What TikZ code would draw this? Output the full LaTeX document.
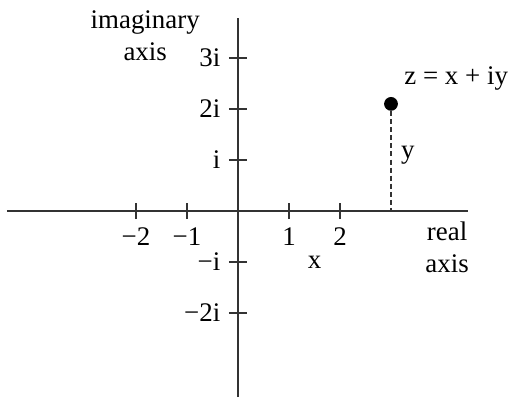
\documentclass[tikz,border=0pt]{standalone}
\usepackage{fontspec}
\setmainfont{Liberation Serif}
\usetikzlibrary{positioning}
\tikzset{
  axisline/.style={line width=1pt, black!80},
  tickmark/.style={line width=0.7pt, black!80},
  ticklbl/.style={inner sep=0pt},
  zdot/.style={circle, fill=black, inner sep=0pt, minimum size=0.27cm}
}

\begin{document}
\begin{tikzpicture}[font=\fontsize{15}{18}\selectfont]
    \useasboundingbox (-4.667,-3.706) rectangle (5.353,4.137);

    % Axes
    \coordinate (W) at (-4.53,0);
    \coordinate (E) at (4.51,0);
    \coordinate (S) at (0,-3.65);
    \coordinate (N) at (0,3.78);
    \draw[axisline] (W) -- (E);
    \draw[axisline] (S) -- (N);

    % Ticks on the real axis
    \foreach \x/\lbl [count=\i] in {-2/{−2},-1/{−1},1/1,2/2} {
        \draw[tickmark] (\x,-0.16) -- (\x,0.16);
        \node[ticklbl] (re\i) at (\x,-0.5) {\lbl};
    }

    % Ticks on the imaginary axis
    \foreach \y/\lbl [count=\i] in {3/3i,2/2i,1/i,-1/{−i},-2/{−2i}} {
        \draw[tickmark] (-0.18,\y) -- (0.18,\y);
        \node[ticklbl, anchor=east] (im\i) at (-0.34,\y) {\lbl};
    }

    % Axis names
    \node[align=center, inner sep=0pt] (imname) at (-1.82,3.44) {imaginary\\axis};
    \node[align=center, inner sep=0pt] (rename) at (4.1,-0.71) {real\\axis};

    % The point z and its parts
    \node[zdot] (z) at (3,2.1) {};
    \coordinate (zfoot) at (3,0);
    \draw[line width=0.7pt, black!80, dash pattern=on 2.8pt off 1.7pt] (z) -- (zfoot);
    \node[anchor=east, inner sep=0pt] (zlbl) at (5.3,2.6) {z = x + iy};
    \node (ylbl) at (3.33,1.1) {y};
    \node (xlbl) at (1.5,-1.0) {x};

\end{tikzpicture}
\end{document}
